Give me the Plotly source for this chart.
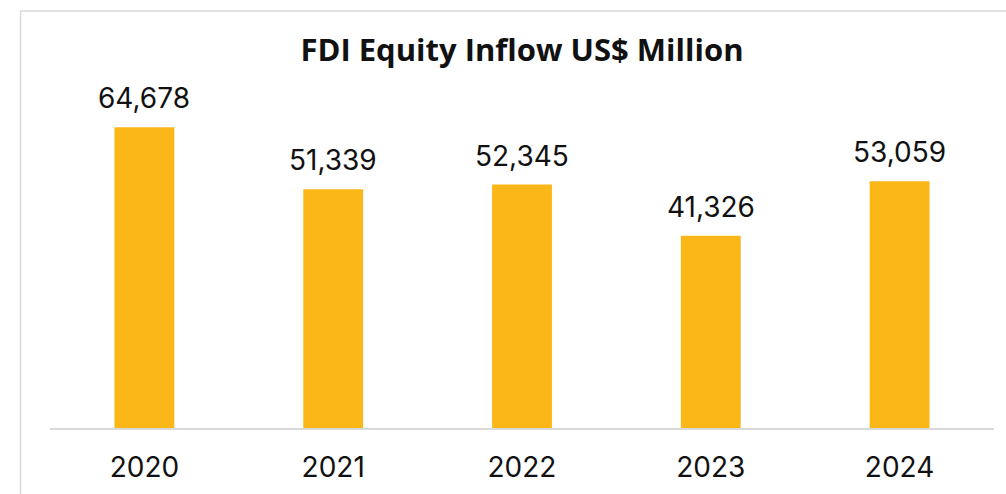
import plotly.graph_objects as go

years = ["2020", "2021", "2022", "2023", "2024"]
values = [64678, 51339, 52345, 41326, 53059]
title = "FDI Equity Inflow US$ Million"

W, H = 1006, 494
ml, mr, mt, mb = 49.5, 11.5, 56, 66
pw, ph = W - ml - mr, H - mt - mb

fig = go.Figure()
fig.add_trace(go.Bar(x=years, y=values, marker_color="#FBB718", width=0.317,
                     marker_line_width=0, hoverinfo="skip"))

for i, v in enumerate(values):
    fig.add_annotation(x=i, y=v, text=f"{v:,}", showarrow=False, yanchor="bottom",
                       yshift=10, font=dict(size=28, color="#111111", family="Inter"))

fig.add_shape(type="rect", xref="paper", yref="paper",
              x0=(20 - ml) / pw, x1=(W + 20 - ml) / pw,
              y0=(H - mb - H - 20) / ph, y1=(H - mb - 11) / ph,
              line=dict(color="#d9d9d9", width=1.5), layer="below")

fig.update_layout(
    width=W, height=H,
    margin=dict(l=ml, r=mr, t=mt, b=mb, autoexpand=False),
    paper_bgcolor="white", plot_bgcolor="white",
    showlegend=False,
    title=dict(text=f"<b>{title}</b>", x=522 / W, xanchor="center", y=1 - 50 / H,
               yanchor="middle",
               font=dict(size=31, color="#111111", family="Open Sans")),
    xaxis=dict(type="category", range=[-0.5, len(years) - 0.5], showline=True,
               linecolor="#d9d9d9", linewidth=2, showgrid=False,
               ticks="", tickfont=dict(size=28, color="#111111", family="Inter"),
               ticklabelstandoff=13),
    yaxis=dict(range=[0, 80000], visible=False, showgrid=False),
)

fig.write_html("out.html", config={"displayModeBar": False},
               post_script="document.body.style.margin='0';")
